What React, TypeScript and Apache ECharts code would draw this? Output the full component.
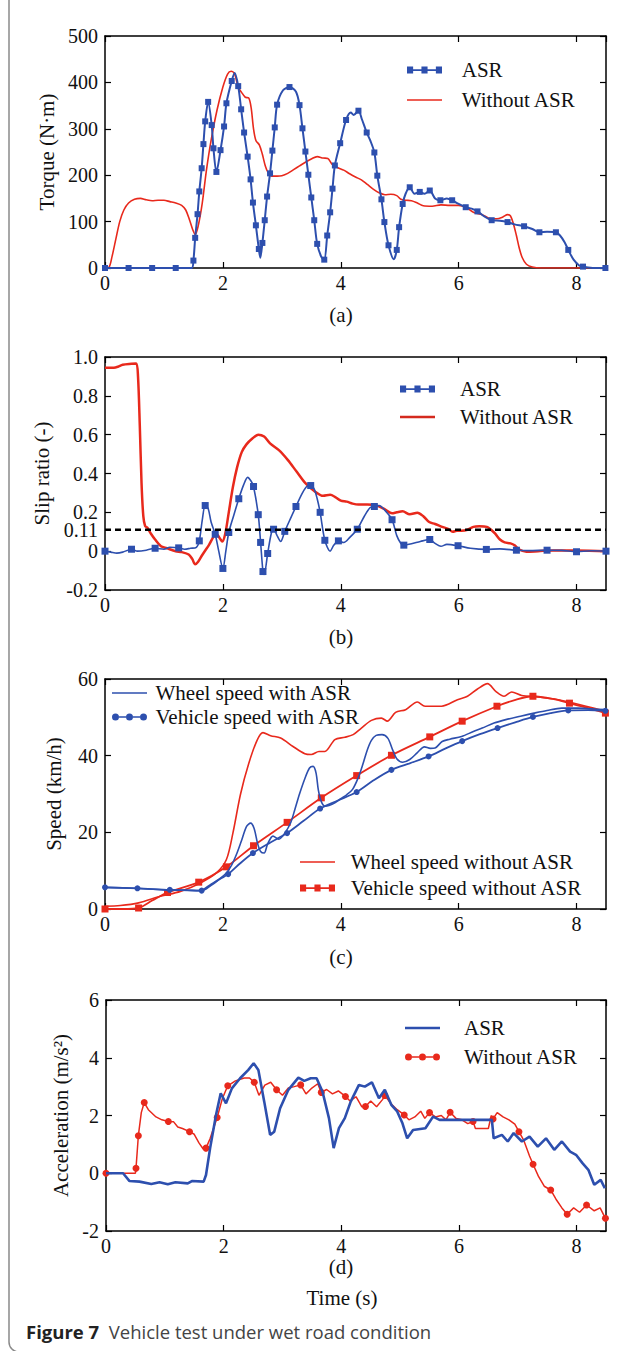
import React, { useEffect, useRef } from 'react';
import * as echarts from 'echarts';

const FONT = '"Liberation Serif", "Times New Roman", serif';
const BLUE = '#2d4fae';
const RED = '#e8291c';

// ---------- (a) Torque (N·m): [time s, value, marker?]
const torqueASR = [
  [0,0,1],[0.4,0,1],[0.8,0,1],[1.2,0,1],[1.47,0,0],[1.5,16,1],[1.53,65,1],[1.57,116,1],[1.6,165,1],[1.64,215,1],
  [1.67,267,1],[1.7,316,1],[1.75,358,1],[1.81,308,1],[1.84,258,1],[1.89,207,1],[1.96,254,1],[2.02,305,1],[2.06,355,1],
  [2.15,403,1],[2.2,420,0],[2.26,392,1],[2.31,342,1],[2.36,292,1],[2.42,240,1],[2.47,191,1],[2.51,141,1],[2.56,92,1],
  [2.61,41,1],[2.635,22,0],[2.67,54,1],[2.71,103,1],[2.75,154,1],[2.8,204,1],[2.84,253,1],[2.88,303,1],[2.92,352,1],
  [3.02,383,0],[3.13,390,1],[3.24,380,0],[3.3,351,1],[3.35,301,1],[3.4,251,1],[3.45,201,1],[3.5,152,1],[3.55,103,1],
  [3.6,52,1],[3.67,24,0],[3.72,18,1],[3.77,70,1],[3.82,120,1],[3.86,171,1],[3.9,221,1],[3.99,269,1],[4.09,319,1],
  [4.17,335,0],[4.22,330,0],[4.3,339,1],[4.36,320,0],[4.44,292,1],[4.5,275,0],[4.57,249,1],[4.62,199,1],[4.69,148,1],
  [4.74,99,1],[4.81,49,1],[4.9,19,0],[4.95,39,1],[4.99,88,1],[5.05,138,1],[5.1,160,0],[5.17,174,1],[5.25,160,0],
  [5.34,164,1],[5.42,160,0],[5.51,167,1],[5.6,150,0],[5.69,146,1],[5.8,150,0],[5.89,146,1],[6.0,138,0],[6.12,131,1],
  [6.22,128,0],[6.32,122,1],[6.45,110,0],[6.56,103,1],[6.7,102,0],[6.83,99,1],[6.95,94,0],[7.11,90,1],[7.25,84,0],
  [7.37,77,1],[7.5,78,0],[7.65,77,1],[7.72,70,0],[7.8,55,0],[7.86,39,1],[7.95,18,0],[8.05,5,0],[8.11,3,1],[8.3,0,0],
  [8.49,0,1]
];
const torqueNoASR = [
  [0,0],[0.07,2],[0.12,25],[0.18,60],[0.25,100],[0.32,125],[0.4,140],[0.5,148],[0.6,150],[0.7,147],[0.8,145],[0.9,146],
  [1.0,146],[1.1,143],[1.2,140],[1.3,135],[1.37,125],[1.43,105],[1.49,82],[1.53,72],[1.58,90],[1.65,140],[1.72,210],
  [1.8,275],[1.9,340],[2.0,390],[2.08,418],[2.14,424],[2.2,418],[2.26,390],[2.32,378],[2.38,368],[2.44,366],[2.48,345],
  [2.52,300],[2.56,275],[2.62,265],[2.67,245],[2.72,220],[2.77,205],[2.83,198],[2.92,198],[3.0,199],[3.1,204],[3.2,212],
  [3.3,220],[3.4,228],[3.5,235],[3.6,240],[3.7,237],[3.78,236],[3.85,224],[3.95,216],[4.05,211],[4.15,203],[4.25,196],
  [4.35,190],[4.45,180],[4.55,170],[4.65,162],[4.75,158],[4.85,159],[4.95,156],[5.02,148],[5.1,146],[5.2,145],[5.3,140],
  [5.4,134],[5.55,133],[5.7,136],[5.85,135],[6.0,135],[6.12,131],[6.25,120],[6.4,115],[6.55,106],[6.65,106],[6.75,110],
  [6.83,115],[6.88,112],[6.93,95],[6.98,70],[7.03,42],[7.08,22],[7.15,8],[7.25,2],[7.4,0],[8.5,0]
];

// ---------- (b) Slip ratio (-)
const slipASR = [
  [0,0,1],[0.1,-0.005,0],[0.2,-0.01,0],[0.3,-0.005,0],[0.45,0.01,1],[0.55,0,0],[0.7,0.005,0],[0.85,0.015,1],[1.0,0.01,0],
  [1.1,0.02,0],[1.25,0.017,1],[1.35,0.01,0],[1.45,0.015,0],[1.55,0.02,0],[1.6,0.053,1],[1.65,0.16,0],[1.7,0.235,1],
  [1.75,0.22,0],[1.8,0.15,0],[1.87,0.087,1],[1.93,0,0],[2.0,-0.089,1],[2.05,0,0],[2.1,0.096,1],[2.18,0.18,0],[2.27,0.27,1],
  [2.35,0.34,0],[2.42,0.38,0],[2.48,0.36,0],[2.52,0.333,1],[2.6,0.188,1],[2.64,0.045,1],[2.68,-0.105,1],[2.7,-0.12,0],
  [2.76,-0.012,1],[2.82,0.09,0],[2.86,0.113,1],[2.92,0.08,0],[2.98,0.05,0],[3.05,0.102,1],[3.15,0.17,0],[3.24,0.23,1],
  [3.35,0.3,0],[3.43,0.335,0],[3.49,0.338,1],[3.55,0.32,0],[3.6,0.27,0],[3.65,0.2,1],[3.73,0.056,1],[3.82,0,0],
  [3.88,0.03,0],[3.96,0.053,1],[4.05,0.045,0],[4.15,0.07,0],[4.28,0.113,1],[4.4,0.18,0],[4.5,0.225,0],[4.57,0.23,1],
  [4.65,0.235,0],[4.75,0.21,0],[4.87,0.162,1],[4.95,0.08,0],[5.02,0.04,0],[5.07,0.031,1],[5.2,0.038,0],[5.35,0.05,0],
  [5.51,0.06,1],[5.6,0.04,0],[5.7,0.025,0],[5.8,0.035,0],[5.99,0.028,1],[6.2,0.015,0],[6.47,0.009,1],[6.7,0.012,0],
  [6.98,0.005,1],[7.2,0.003,0],[7.5,0.005,1],[7.75,0.004,0],[8.0,-0.003,1],[8.25,0.002,0],[8.5,0,1]
];
const slipNoASR = [
  [0,0.945],[0.15,0.945],[0.22,0.95],[0.3,0.96],[0.45,0.965],[0.53,0.967],[0.56,0.9],[0.59,0.65],[0.62,0.35],[0.65,0.18],
  [0.68,0.13],[0.72,0.12],[0.78,0.09],[0.85,0.06],[0.95,0.025],[1.05,0.015],[1.2,0],[1.3,-0.005],[1.42,-0.017],
  [1.48,-0.04],[1.53,-0.068],[1.58,-0.055],[1.65,-0.02],[1.76,0.03],[1.89,0.09],[1.95,0.065],[1.99,0.05],[2.04,0.09],
  [2.1,0.2],[2.17,0.33],[2.24,0.43],[2.32,0.51],[2.4,0.55],[2.5,0.58],[2.6,0.6],[2.7,0.59],[2.8,0.555],[2.95,0.52],
  [3.1,0.47],[3.25,0.41],[3.4,0.35],[3.55,0.31],[3.7,0.285],[3.82,0.29],[3.9,0.28],[4.0,0.26],[4.1,0.255],[4.2,0.245],
  [4.3,0.24],[4.45,0.24],[4.6,0.236],[4.75,0.215],[4.87,0.195],[4.95,0.2],[5.05,0.205],[5.17,0.19],[5.3,0.198],[5.4,0.18],
  [5.5,0.15],[5.6,0.14],[5.72,0.125],[5.82,0.115],[5.9,0.1],[5.97,0.105],[6.05,0.105],[6.15,0.11],[6.25,0.125],
  [6.35,0.128],[6.48,0.125],[6.55,0.11],[6.62,0.09],[6.7,0.06],[6.78,0.045],[6.88,0.04],[6.95,0.03],[7.02,0.01],
  [7.15,-0.003],[7.35,0],[7.6,0.004],[8.0,0.003],[8.5,0]
];
const slipThreshold = [[0, 0.11], [8.5, 0.11]];
const slipLabels = [-0.2, 0, 0.11, 0.2, 0.4, 0.6, 0.8, 1.0];

// ---------- (c) Speed (km/h)
const wheelASR = [
  [0,5.65],[0.5,5.4],[1.0,5.0],[1.4,4.9],[1.6,4.8],[1.66,5.0],[1.8,6.5],[1.93,7.7],[2.06,9.4],[2.15,11.5],[2.24,14.6],
  [2.32,18],[2.4,21.5],[2.47,22.4],[2.53,21],[2.59,17],[2.64,15],[2.7,14.6],[2.76,17],[2.85,19],[2.95,18.2],[3.05,19.8],
  [3.15,22.5],[3.22,25.9],[3.3,30],[3.39,34],[3.47,36.8],[3.53,37.2],[3.58,35.5],[3.62,31],[3.67,28],[3.73,26.8],[3.8,27],
  [3.9,27.7],[4.0,28.8],[4.1,29.8],[4.2,31.2],[4.3,34.4],[4.38,38],[4.45,41.5],[4.52,44],[4.6,45.3],[4.7,45.5],[4.8,44.5],
  [4.88,41.5],[4.95,39.2],[5.05,38.3],[5.17,39],[5.3,40.8],[5.42,42.3],[5.52,41.9],[5.6,42],[5.72,43.7],[5.85,44.3],
  [6.05,45],[6.25,46.3],[6.4,47.2],[6.6,48.5],[6.8,49.4],[7.05,50.3],[7.28,51.1],[7.5,51.8],[7.75,52.4],[8.03,52.4],
  [8.25,52.2],[8.49,52]
];
const vehicleASR = [
  [0,5.65,1],[0.55,5.4,1],[1.1,5.0,1],[1.64,4.8,1],[1.8,6.2,0],[1.95,7.8,0],[2.09,9.1,1],[2.3,12,0],[2.51,14.6,1],
  [2.8,17.3,0],[3.09,19.8,1],[3.37,23,0],[3.65,26.2,1],[3.95,28.3,0],[4.27,30.5,1],[4.55,33.5,0],[4.86,36.3,1],[5.17,38,0],
  [5.49,39.8,1],[5.78,41.9,0],[6.06,43.8,1],[6.36,45.6,0],[6.66,47.2,1],[6.96,48.7,0],[7.26,50.1,1],[7.56,51.1,0],
  [7.86,51.8,1],[8.2,51.9,0],[8.49,51.7,1]
];
const wheelNoASR = [
  [0,0.7],[0.26,0.9],[0.57,1.6],[0.94,3.3],[1.28,4.6],[1.62,6.8],[1.89,9.4],[2.06,12.9],[2.17,19.8],[2.3,30],[2.44,38],
  [2.58,44],[2.68,46],[2.81,45.2],[2.98,44.6],[3.19,42.4],[3.39,40.5],[3.5,40.3],[3.63,41.1],[3.73,41.1],[3.9,44.2],
  [4.07,44.8],[4.21,45.5],[4.35,47.2],[4.52,49.2],[4.69,49.8],[4.79,49],[4.93,51.3],[5.1,52],[5.3,54],[5.43,52.9],
  [5.71,52.9],[5.98,54.6],[6.15,55.5],[6.32,57.4],[6.49,58.8],[6.63,56.8],[6.77,55.5],[6.9,56.6],[7.07,55.7],[7.35,55.3],
  [7.69,54.6],[7.89,53.9],[8.16,52.9],[8.49,51.6]
];
const vehicleNoASR = [
  [0,0,1],[0.3,0,0],[0.57,0.26,1],[0.8,2.2,0],[1.06,4.3,1],[1.59,7.0,1],[2.06,11,1],[2.52,16.5,1],[3.09,22.6,1],
  [3.67,29,1],[4.27,34.8,1],[4.86,40.1,1],[5.51,44.9,1],[6.06,49,1],[6.65,52.9,1],[6.95,54.5,0],[7.26,55.5,1],
  [7.6,54.8,0],[7.88,53.7,1],[8.2,52.4,0],[8.49,51.1,1]
];

// ---------- (d) Acceleration (m/s²)
const accASR = [
  [0,0],[0.29,0],[0.4,-0.27],[0.57,-0.29],[0.77,-0.37],[0.91,-0.31],[1.05,-0.38],[1.18,-0.31],[1.39,-0.35],[1.46,-0.27],
  [1.66,-0.29],[1.7,-0.06],[1.77,0.87],[1.87,2.02],[1.95,2.77],[2.04,2.42],[2.14,2.94],[2.28,3.29],[2.42,3.58],[2.51,3.81],
  [2.59,3.58],[2.69,2.48],[2.79,1.33],[2.86,1.44],[2.96,2.25],[3.1,2.89],[3.27,3.31],[3.37,3.2],[3.48,3.29],[3.58,3.29],
  [3.68,2.83],[3.79,1.91],[3.87,0.87],[3.96,1.56],[4.06,1.91],[4.16,2.48],[4.3,3.06],[4.4,3.0],[4.52,3.15],[4.64,2.6],
  [4.74,2.89],[4.85,2.37],[4.95,2.14],[5.04,1.73],[5.12,1.21],[5.22,1.5],[5.43,1.56],[5.56,1.96],[5.67,1.85],[5.98,1.85],
  [6.18,1.85],[6.56,1.85],[6.59,1.21],[6.73,1.33],[6.83,1.1],[6.93,1.39],[7.07,1.1],[7.2,1.27],[7.34,0.92],[7.48,1.21],
  [7.62,0.81],[7.75,1.1],[7.89,0.75],[7.99,0.64],[8.1,0.35],[8.2,0.12],[8.3,-0.4],[8.41,-0.23],[8.48,-0.52]
];
const accNoASR = [
  [0,0,1],[0.3,0,0],[0.5,0,0],[0.51,0.17,1],[0.55,1.3,1],[0.6,2.1,0],[0.65,2.45,1],[0.72,2.2,0],[0.85,1.95,0],[0.95,1.85,0],
  [1.06,1.79,1],[1.15,1.78,0],[1.22,1.6,0],[1.3,1.55,0],[1.42,1.44,1],[1.5,1.35,0],[1.58,1.05,0],[1.65,0.85,0],[1.7,0.87,1],
  [1.77,1.2,0],[1.89,1.93,1],[1.98,2.6,0],[2.07,3.03,1],[2.2,3.2,0],[2.35,3.3,0],[2.44,3.3,0],[2.52,3.15,1],[2.6,2.7,0],
  [2.7,3.05,0],[2.8,3.15,0],[2.9,2.89,1],[3.0,2.7,0],[3.1,2.95,0],[3.2,3.0,0],[3.31,3.06,1],[3.4,2.75,0],[3.5,2.95,0],
  [3.6,3.1,0],[3.66,2.8,1],[3.75,2.9,0],[3.85,2.75,0],[3.95,2.85,0],[4.07,2.66,1],[4.15,2.5,0],[4.25,2.65,0],[4.35,2.3,0],
  [4.41,2.31,1],[4.5,2.5,0],[4.6,2.3,0],[4.7,2.55,0],[4.74,2.69,1],[4.85,2.4,0],[4.95,2.2,0],[5.07,2.02,1],[5.15,1.85,0],
  [5.25,1.95,0],[5.35,2.15,0],[5.42,1.9,0],[5.5,2.1,1],[5.6,1.95,0],[5.7,2.0,0],[5.78,1.85,0],[5.85,2.11,1],[5.95,1.9,0],
  [6.05,1.85,0],[6.15,1.72,0],[6.24,1.79,1],[6.28,1.55,0],[6.5,1.55,0],[6.55,2.0,0],[6.58,1.88,1],[6.65,2.1,0],
  [6.75,1.95,0],[6.85,1.85,0],[6.95,1.7,0],[7.02,1.44,1],[7.1,1.15,0],[7.2,0.6,0],[7.26,0.31,1],[7.35,-0.1,0],
  [7.45,-0.45,0],[7.56,-0.58,1],[7.65,-0.9,0],[7.75,-1.2,0],[7.84,-1.42,1],[7.95,-1.2,0],[8.05,-1.35,0],[8.17,-1.1,1],
  [8.3,-1.3,0],[8.4,-1.2,0],[8.49,-1.56,1]
];

const timeRange = [0, 8.5];
const yRanges = [
  { min: 0, max: 500, interval: 100, name: 'Torque (N·m)' },
  { min: -0.2, max: 1.0, interval: 0.2, name: 'Slip ratio (-)' },
  { min: 0, max: 60, interval: 20, name: 'Speed (km/h)' },
  { min: -2, max: 6, interval: 2, name: 'Acceleration (m/s²)' },
];
const panelLabels = ['(a)', '(b)', '(c)', '(d)'];

const SQ_ICON = 'path://M0,0H7V3H16.5V0H23.5V3H33V0H40V8H33V5H23.5V8H16.5V5H7V8H0Z';
const CIRC_ICON = 'path://M0,4A4,4,0,1,1,8,4A4,4,0,1,1,0,4ZM8,3.2H16V4.8H8ZM16,4A4,4,0,1,1,24,4A4,4,0,1,1,16,4ZM24,3.2H32V4.8H24ZM32,4A4,4,0,1,1,40,4A4,4,0,1,1,32,4Z';
const LINE_ICON = 'path://M0,0M40,8M0,3.2H40V4.8H0Z';
const THICK_LINE_ICON = 'path://M0,0M40,8M0,2.6H40V5.4H0Z';

function withMarkers(arr: number[][]) {
  return arr.map(([t, v, m]) => (m ? [t, v] : { value: [t, v], symbol: 'none' }));
}

const grids = [
  { left: 105, top: 36, width: 501, height: 232 },
  { left: 105, top: 357, width: 501, height: 233 },
  { left: 105, top: 679, width: 501, height: 230 },
  { left: 106, top: 1000, width: 500, height: 231 },
];
const nameGaps = [48, 48, 41, 34];
const labelY = [315, 637, 957, 1267];

function xAx(i: number, top: boolean) {
  return {
    gridIndex: i, type: 'value', position: top ? 'top' : 'bottom',
    min: timeRange[0], max: timeRange[1], interval: 2,
    axisLine: { show: true, onZero: false, lineStyle: { color: '#000', width: 1.5 } },
    axisTick: { show: true, inside: true, length: 6, lineStyle: { color: '#000', width: 1.2 } },
    axisLabel: { show: !top, fontFamily: FONT, fontSize: 20, color: '#111', margin: 5, showMaxLabel: false },
    splitLine: { show: false },
  };
}
function yAx(i: number, right: boolean) {
  const r = yRanges[i];
  const label: any = { show: !right, fontFamily: FONT, fontSize: 20, color: '#111', margin: 7 };
  if (i === 1) {
    label.customValues = slipLabels;
    label.lineHeight = 15;
    label.formatter = (v: number) => (Math.abs(v) < 1e-9 ? '0' : Math.abs(v - 0.11) < 1e-6 ? '0.11' : v.toFixed(1));
  }
  return {
    gridIndex: i, type: 'value', position: right ? 'right' : 'left',
    min: r.min, max: r.max, interval: r.interval,
    name: right ? '' : r.name, nameLocation: 'middle', nameGap: nameGaps[i],
    nameTextStyle: { fontFamily: FONT, fontSize: 21, color: '#111' },
    axisLine: { show: true, onZero: false, lineStyle: { color: '#000', width: 1.5 } },
    axisTick: { show: true, inside: true, length: 6, lineStyle: { color: '#000', width: 1.2 } },
    axisLabel: label,
    splitLine: { show: false },
  };
}

const legendText = { fontFamily: FONT, fontSize: 21, color: '#111', lineHeight: 22 };
const NB = '\u00A0';
const CAPTION_FONT = '"Open Sans", "Noto Sans", sans-serif';

export default function App() {
  const ref = useRef<HTMLDivElement>(null);
  useEffect(() => {
    document.body.style.margin = '0';
    const chart = echarts.init(ref.current!, undefined, { renderer: 'svg' });
    const xAxis: any[] = [];
    const yAxis: any[] = [];
    for (let i = 0; i < 4; i++) {
      xAxis.push(xAx(i, false), xAx(i, true));
      yAxis.push(yAx(i, false), yAx(i, true));
    }
    const ax = (i: number) => ({ xAxisIndex: 2 * i, yAxisIndex: 2 * i });
    const series: any[] = [
      { ...ax(0), type: 'line', name: 'Without ASR', data: torqueNoASR, symbol: 'none', smooth: 0.3,
        lineStyle: { color: RED, width: 1.6 }, itemStyle: { color: RED }, z: 2 },
      { ...ax(0), type: 'line', name: 'ASR', data: withMarkers(torqueASR), symbol: 'rect', symbolSize: 6, smooth: 0.3,
        lineStyle: { color: BLUE, width: 2 }, itemStyle: { color: BLUE }, z: 3 },

      { ...ax(1), type: 'line', name: 'Without ASR', data: slipNoASR, symbol: 'none', smooth: 0.3,
        lineStyle: { color: RED, width: 2.5 }, itemStyle: { color: RED }, z: 2 },
      { ...ax(1), type: 'line', name: 'ASR', data: withMarkers(slipASR), symbol: 'rect', symbolSize: 7, smooth: 0.3,
        lineStyle: { color: BLUE, width: 1.6 }, itemStyle: { color: BLUE }, z: 3 },
      { ...ax(1), type: 'line', name: 'threshold', data: slipThreshold, symbol: 'none',
        lineStyle: { color: '#000', width: 2.5, type: [6, 4] }, z: 4 },

      { ...ax(2), type: 'line', name: 'Wheel speed without ASR', data: wheelNoASR, symbol: 'none', smooth: 0.3,
        lineStyle: { color: RED, width: 1.6 }, itemStyle: { color: RED }, z: 2 },
      { ...ax(2), type: 'line', name: 'Vehicle speed without ASR', data: withMarkers(vehicleNoASR), symbol: 'rect',
        symbolSize: 7, smooth: 0.3, lineStyle: { color: RED, width: 1.8 }, itemStyle: { color: RED }, z: 2 },
      { ...ax(2), type: 'line', name: 'Wheel speed with ASR', data: wheelASR, symbol: 'none', smooth: 0.3,
        lineStyle: { color: BLUE, width: 1.6 }, itemStyle: { color: BLUE }, z: 3 },
      { ...ax(2), type: 'line', name: 'Vehicle speed with ASR', data: withMarkers(vehicleASR), symbol: 'circle',
        symbolSize: 6, smooth: 0.3, lineStyle: { color: BLUE, width: 1.8 }, itemStyle: { color: BLUE }, z: 3 },

      { ...ax(3), type: 'line', name: 'Without ASR', data: withMarkers(accNoASR), symbol: 'circle', symbolSize: 7,
        lineStyle: { color: RED, width: 1.5 }, itemStyle: { color: RED }, z: 2 },
      { ...ax(3), type: 'line', name: 'ASR', data: accASR, symbol: 'none',
        lineStyle: { color: BLUE, width: 2.6 }, itemStyle: { color: BLUE }, z: 3 },
    ];
    const baseLegend = { orient: 'vertical', padding: 0, itemHeight: 7, selectedMode: false,
      itemStyle: { borderWidth: 0 }, textStyle: legendText };
    const legend: any[] = [
      { ...baseLegend, left: 407, top: 59, itemGap: 8, itemWidth: 54, formatter: NB + '{name}',
        data: [{ name: 'ASR', icon: SQ_ICON, itemStyle: { color: BLUE } },
               { name: 'Without ASR', icon: LINE_ICON, itemStyle: { color: RED } }] },
      { ...baseLegend, left: 400, top: 378, itemGap: 6, itemWidth: 54, formatter: NB + NB + '{name}',
        data: [{ name: 'ASR', icon: SQ_ICON, itemStyle: { color: BLUE } },
               { name: 'Without ASR', icon: THICK_LINE_ICON, itemStyle: { color: '#d42a1e' } }] },
      { ...baseLegend, left: 112, top: 682, itemGap: 2, itemWidth: 42,
        data: [{ name: 'Wheel speed with ASR', icon: LINE_ICON, itemStyle: { color: BLUE } },
               { name: 'Vehicle speed with ASR', icon: CIRC_ICON, itemStyle: { color: BLUE } }] },
      { ...baseLegend, left: 300, top: 851, itemGap: 4, itemWidth: 46, formatter: NB + '{name}',
        data: [{ name: 'Wheel speed without ASR', icon: LINE_ICON, itemStyle: { color: RED } },
               { name: 'Vehicle speed without ASR', icon: SQ_ICON, itemStyle: { color: RED } }] },
      { ...baseLegend, left: 405, top: 1017, itemGap: 7, itemWidth: 52, formatter: NB + NB + '{name}',
        data: [{ name: 'ASR', icon: THICK_LINE_ICON, itemStyle: { color: BLUE } },
               { name: 'Without ASR', icon: CIRC_ICON, itemStyle: { color: RED } }] },
    ];
    const graphic: any[] = [
      { type: 'rect', silent: true, shape: { x: 9, y: -20, width: 700, height: 1372, r: 10 },
        style: { fill: 'none', stroke: '#8a8a8a', lineWidth: 1.5 } },
      ...panelLabels.map((t, i) => ({ type: 'text', x: 341, y: labelY[i], silent: true,
        style: { text: t, fontFamily: FONT, fontSize: 21, fill: '#111', align: 'center', verticalAlign: 'middle' } })),
      { type: 'text', x: 342, y: 1298, silent: true,
        style: { text: 'Time (s)', fontFamily: FONT, fontSize: 21, fill: '#111', align: 'center', verticalAlign: 'middle' } },
      { type: 'text', x: 26, y: 1331, silent: true,
        style: { text: '{b|Figure 7}' + NB + NB + 'Vehicle test under wet road condition',
          fontFamily: CAPTION_FONT, fontSize: 18.5, fill: '#444', verticalAlign: 'middle',
          rich: { b: { fontFamily: CAPTION_FONT, fontSize: 18.5, fontWeight: 'bold', fill: '#222' } } } },
    ];
    chart.setOption({
      animation: false,
      backgroundColor: '#fff',
      grid: grids.map(g => ({ ...g, containLabel: false })),
      xAxis, yAxis, series, legend, graphic,
    });
    return () => chart.dispose();
  }, []);
  return <div ref={ref} style={{ width: 630, height: 1351 }} />;
}
